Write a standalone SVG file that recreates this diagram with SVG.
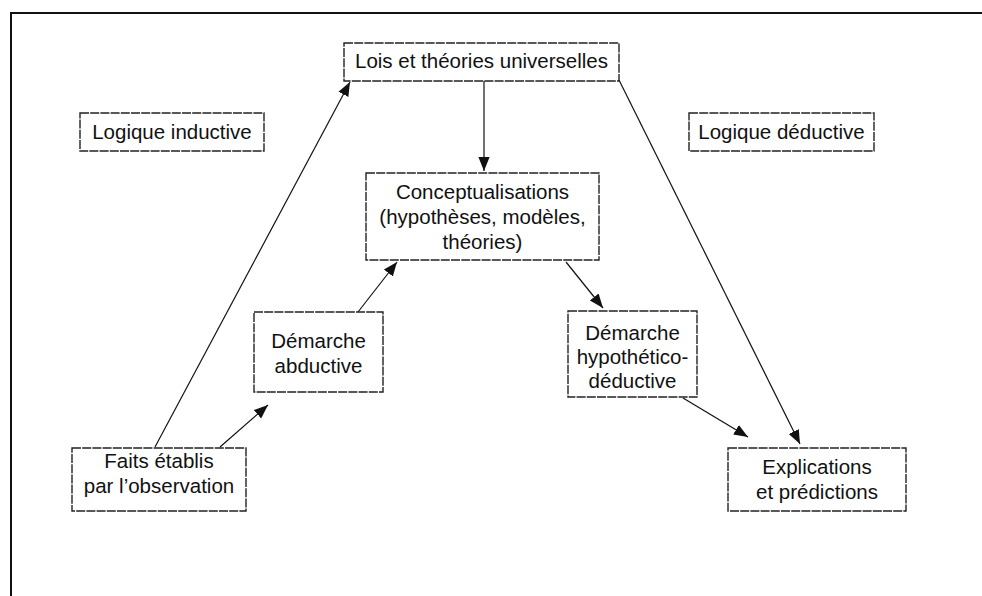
<svg xmlns="http://www.w3.org/2000/svg" width="982" height="596" viewBox="0 0 982 596">
<defs>
<marker id="ah" viewBox="0 0 10 10" refX="10" refY="5" markerWidth="14" markerHeight="14" markerUnits="userSpaceOnUse" orient="auto">
<path d="M0,1 L10,5 L0,9 Z" fill="#111"/>
</marker>
<style>
.box{fill:#fff;stroke:#222;stroke-width:1.4;stroke-dasharray:9 1.2}
.t{font-family:"Liberation Sans",Arial,sans-serif;font-size:20.5px;fill:#111;text-anchor:middle}
.c{stroke:#111;stroke-width:1.2;fill:none;marker-end:url(#ah)}
</style>
</defs>
<rect width="982" height="596" fill="#fff"/>
<path d="M11,596 V13 H982" fill="none" stroke="#111" stroke-width="2"/>
<g id="connectors">
<line class="c" x1="155" y1="447" x2="350" y2="82"/>
<line class="c" x1="220" y1="447" x2="268" y2="405"/>
<line class="c" x1="358" y1="312" x2="397" y2="262"/>
<line class="c" x1="484" y1="81" x2="484" y2="171"/>
<line class="c" x1="566" y1="262" x2="603" y2="308"/>
<line class="c" x1="683" y1="398" x2="748" y2="437"/>
<line class="c" x1="619" y1="80" x2="800" y2="444"/>
</g>
<g id="lois">
<rect class="box" x="344" y="43" width="275" height="38"/>
<text class="t" x="481.5" y="68">Lois et théories universelles</text>
</g>
<g id="inductive">
<rect class="box" x="80" y="113" width="184" height="38"/>
<text class="t" x="172" y="139">Logique inductive</text>
</g>
<g id="deductive">
<rect class="box" x="689" y="113" width="185" height="38"/>
<text class="t" x="781.5" y="139">Logique déductive</text>
</g>
<g id="concept">
<rect class="box" x="366" y="173" width="233" height="87"/>
<text class="t" x="482.5" y="199">Conceptualisations</text>
<text class="t" x="482.5" y="224">(hypothèses, modèles,</text>
<text class="t" x="482.5" y="249">théories)</text>
</g>
<g id="abductive">
<rect class="box" x="254" y="312" width="129" height="80"/>
<text class="t" x="318.5" y="348">Démarche</text>
<text class="t" x="318.5" y="373">abductive</text>
</g>
<g id="hypothetico">
<rect class="box" x="568" y="311" width="129" height="86"/>
<text class="t" x="632.5" y="340">Démarche</text>
<text class="t" x="632.5" y="364">hypothético-</text>
<text class="t" x="632.5" y="388">déductive</text>
</g>
<g id="faits">
<rect class="box" x="72" y="448" width="174" height="63"/>
<text class="t" x="159" y="468">Faits établis</text>
<text class="t" x="159" y="493">par l’observation</text>
</g>
<g id="explications">
<rect class="box" x="728" y="448" width="178" height="63"/>
<text class="t" x="817" y="474">Explications</text>
<text class="t" x="817" y="499">et prédictions</text>
</g>
</svg>
